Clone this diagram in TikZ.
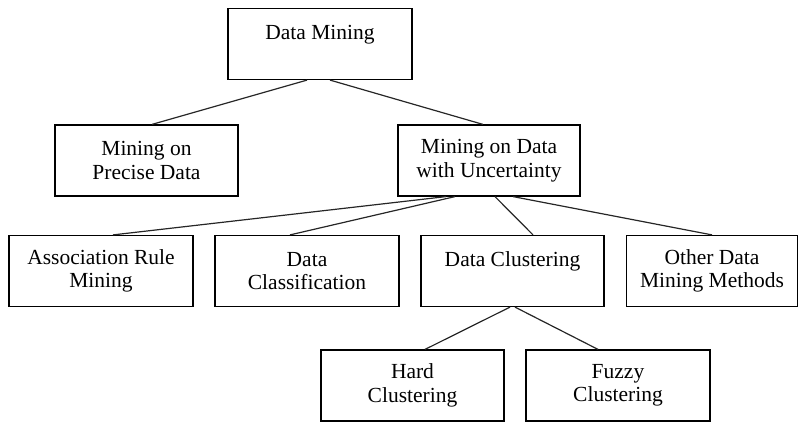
\documentclass[tikz,border=0pt]{standalone}
\usepackage{fontspec}
\setmainfont{Liberation Serif}
\begin{document}
\begin{tikzpicture}[x=1pt,y=-1pt,
  box/.style={draw=black,line width=1.2pt,rectangle,minimum height=71pt,align=center,inner sep=0pt,
    font=\fontsize{21.5}{23.5}\selectfont},
  link/.style={draw=black!85,line width=1.2pt}]
\useasboundingbox (0,0) rectangle (799,422);
\node[box,minimum width=184pt] (dm) at (320,44) {Data Mining\\\mbox{}};
\node[box,minimum width=183pt] (precise) at (146.5,160.5) {Mining on\\Precise Data};
\node[box,minimum width=182pt] (unc) at (489,160.5) {Mining on Data\\with Uncertainty};
\node[box,minimum width=184pt] (assoc) at (101,271) {Association Rule\\Mining};
\node[box,minimum width=184pt] (classif) at (307,271) {Data\\Classification};
\node[box,minimum width=183pt] (clust) at (512.5,271) {Data Clustering\\\mbox{}};
\node[box,minimum width=171pt] (other) at (712,271) {Other Data\\Mining Methods};
\node[box,minimum width=183pt] (hard) at (412.5,385.5) {Hard\\Clustering};
\node[box,minimum width=184pt] (fuzzy) at (618,385.5) {Fuzzy\\Clustering};
\draw[link] ([xshift=-13pt]dm.south) -- ([xshift=5.5pt]precise.north);
\draw[link] ([xshift=10pt]dm.south) -- ([xshift=-6pt]unc.north);
\draw[link] ([xshift=-43pt]unc.south) -- ([xshift=12pt]assoc.north);
\draw[link] ([xshift=-34pt]unc.south) -- ([xshift=-17pt]classif.north);
\draw[link] ([xshift=6pt]unc.south) -- ([xshift=20.5pt]clust.north);
\draw[link] ([xshift=24pt]unc.south) -- (other.north);
\draw[link] ([xshift=-2.5pt]clust.south) -- ([xshift=12.5pt]hard.north);
\draw[link] ([xshift=2.5pt]clust.south) -- ([xshift=-20pt]fuzzy.north);
\end{tikzpicture}
\end{document}
